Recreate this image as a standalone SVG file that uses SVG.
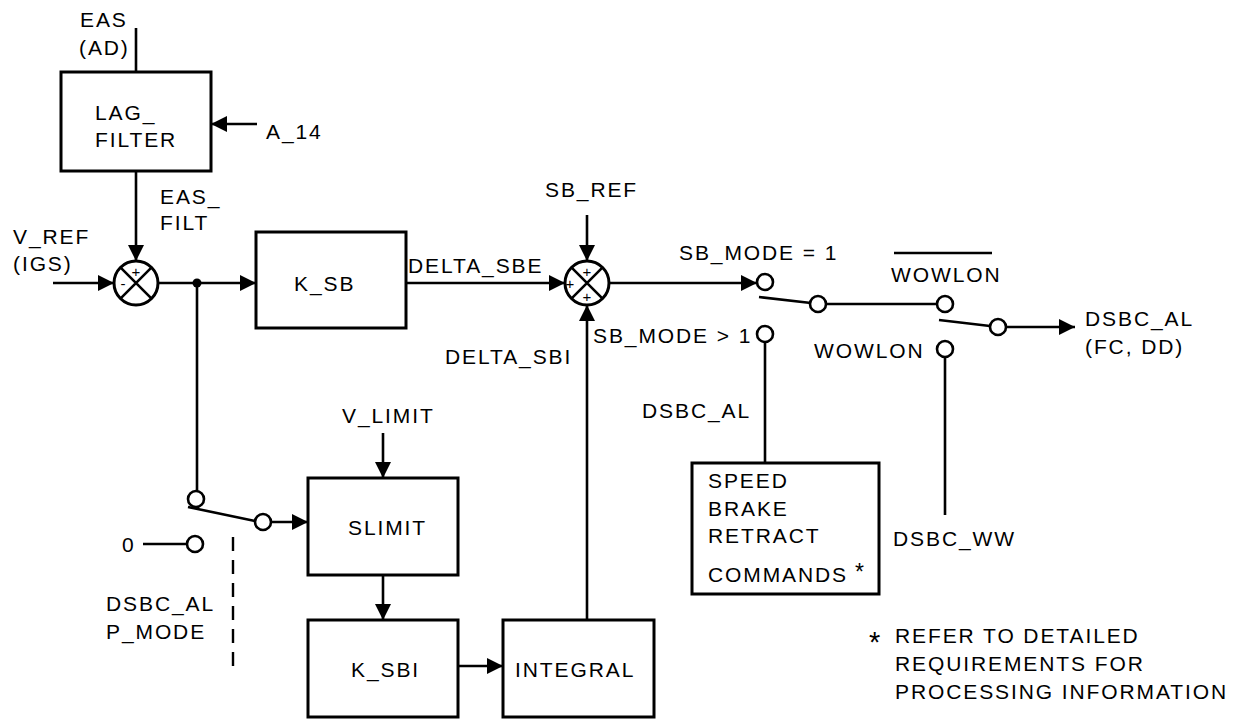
<svg xmlns="http://www.w3.org/2000/svg" width="1242" height="719" viewBox="0 0 1242 719">
<defs>
<marker id="ah" markerUnits="userSpaceOnUse" markerWidth="17" markerHeight="17" refX="16" refY="8" orient="auto">
<path d="M0,0 L16,8 L0,16 z" fill="#000"/>
</marker>
<style>
text{font-family:"Liberation Sans",Arial,sans-serif;font-size:21px;letter-spacing:1.9px;fill:#000}
.sg{font-size:15px;letter-spacing:0}
.st{letter-spacing:0}
.box{fill:#fff;stroke:#000;stroke-width:3}
.ln{fill:none;stroke:#000;stroke-width:2.6}
.ar{marker-end:url(#ah)}
.c{fill:#fff;stroke:#000;stroke-width:2.6}
.dash{fill:none;stroke:#000;stroke-width:2.4;stroke-dasharray:14 9}
</style>
</defs>
<rect width="1242" height="719" fill="#fff"/>

<g id="connectors">
<path class="ln" d="M136,28 V72"/>
<path class="ln ar" d="M136,171 V261"/>
<path class="ln ar" d="M257,124 H211"/>
<path class="ln ar" d="M53,283 H114"/>
<path class="ln ar" d="M158,283 H256"/>
<path class="ln" d="M197,283 V491"/>
<path class="ln ar" d="M406,283 H565"/>
<path class="ln ar" d="M587,215 V261"/>
<path class="ln ar" d="M587,620 V305"/>
<path class="ln ar" d="M609,283 H757"/>
<path class="ln" d="M759,297 L811,303"/>
<path class="ln" d="M826,304 H937"/>
<path class="ln" d="M939,320 L990,326"/>
<path class="ln ar" d="M1006,327 H1075"/>
<path class="ln" d="M765,342 V463"/>
<path class="ln" d="M945,357 V515"/>
<path class="ln" d="M894,253 H992"/>
<path class="ln" d="M188,507 L255,521"/>
<path class="ln ar" d="M271,522 H308"/>
<path class="ln" d="M143,544 H187"/>
<path class="dash" d="M233,537 V671"/>
<path class="ln ar" d="M383,433 V478"/>
<path class="ln ar" d="M383,575 V620"/>
<path class="ln ar" d="M458,666 H503"/>
<circle cx="197" cy="283" r="4.5" fill="#000"/>
<circle class="c" cx="196" cy="499" r="8"/>
<circle class="c" cx="263" cy="522" r="8"/>
<circle class="c" cx="195" cy="544" r="8"/>
<circle class="c" cx="765" cy="282" r="8"/>
<circle class="c" cx="765" cy="334" r="8"/>
<circle class="c" cx="818" cy="304" r="8"/>
<circle class="c" cx="945" cy="304" r="8"/>
<circle class="c" cx="998" cy="327" r="8"/>
<circle class="c" cx="945" cy="349" r="8"/>
</g>

<g id="lag_filter">
<rect class="box" x="61" y="72" width="150" height="99"/>
<text x="95" y="120">LAG_</text>
<text x="95" y="147">FILTER</text>
</g>

<g id="sum1">
<circle cx="136" cy="283" r="22" fill="#fff" stroke="#000" stroke-width="3"/>
<path class="ln" d="M120.4,267.4 L151.6,298.6 M151.6,267.4 L120.4,298.6"/>
<text class="sg" x="136" y="277" text-anchor="middle">+</text>
<text class="sg" x="123" y="289" text-anchor="middle">-</text>
</g>

<g id="k_sb">
<rect class="box" x="256" y="232" width="150" height="96"/>
<text x="294" y="291">K_SB</text>
</g>

<g id="sum2">
<circle cx="587" cy="283" r="22" fill="#fff" stroke="#000" stroke-width="3"/>
<path class="ln" d="M571.4,267.4 L602.6,298.6 M602.6,267.4 L571.4,298.6"/>
<text class="sg" x="587" y="277" text-anchor="middle">+</text>
<text class="sg" x="570" y="289" text-anchor="middle">+</text>
<text class="sg" x="587" y="302" text-anchor="middle">+</text>
</g>

<g id="slimit">
<rect class="box" x="308" y="478" width="150" height="97"/>
<text x="348" y="535">SLIMIT</text>
</g>

<g id="k_sbi">
<rect class="box" x="308" y="620" width="150" height="97"/>
<text x="351" y="677">K_SBI</text>
</g>

<g id="integral">
<rect class="box" x="503" y="620" width="151" height="97"/>
<text x="515" y="677">INTEGRAL</text>
</g>

<g id="speed_brake">
<rect class="box" x="692" y="463" width="187" height="131"/>
<text x="708" y="488">SPEED</text>
<text x="708" y="516">BRAKE</text>
<text x="708" y="543">RETRACT</text>
<text x="708" y="582">COMMANDS</text>
<text class="st" x="855" y="580" style="font-size:23px">*</text>
</g>

<g id="labels">
<text x="80" y="27">EAS</text>
<text x="79" y="55">(AD)</text>
<text x="266" y="139">A_14</text>
<text x="160" y="204">EAS_</text>
<text x="160" y="230">FILT</text>
<text x="13" y="244">V_REF</text>
<text x="13" y="271">(IGS)</text>
<text x="408" y="273">DELTA_SBE</text>
<text x="545" y="197">SB_REF</text>
<text x="445" y="364">DELTA_SBI</text>
<text x="679" y="260">SB_MODE = 1</text>
<text x="593" y="343">SB_MODE &gt; 1</text>
<text x="891" y="282">WOWLON</text>
<text x="814" y="358">WOWLON</text>
<text x="1085" y="326">DSBC_AL</text>
<text x="1085" y="354">(FC, DD)</text>
<text x="642" y="418">DSBC_AL</text>
<text x="893" y="546">DSBC_WW</text>
<text x="342" y="423">V_LIMIT</text>
<text x="122" y="552">0</text>
<text x="106" y="611">DSBC_AL</text>
<text x="106" y="639">P_MODE</text>
<text class="st" x="869" y="652" style="font-size:29px">*</text>
<text x="895" y="643">REFER TO DETAILED</text>
<text x="895" y="671">REQUIREMENTS FOR</text>
<text x="895" y="699">PROCESSING INFORMATION</text>
</g>
</svg>
